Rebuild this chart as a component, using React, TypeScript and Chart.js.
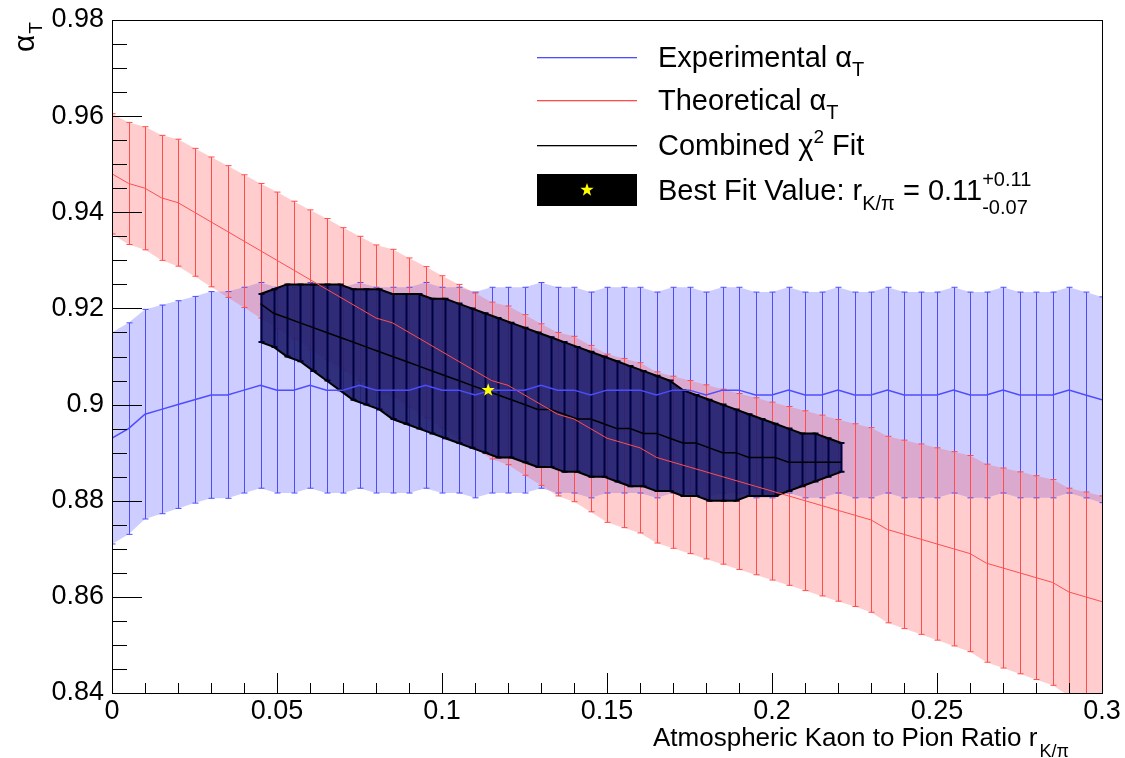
import React, { useEffect, useRef } from "react";
import { Chart, registerables } from "chart.js";
Chart.register(...registerables);

const gridX = [0,0.005,0.01,0.015,0.02,0.025,0.03,0.035,0.04,0.045,0.05,0.055,0.06,0.065,0.07,0.075,0.08,0.085,0.09,0.095,0.1,0.105,0.11,0.115,0.12,0.125,0.13,0.135,0.14,0.145,0.15,0.155,0.16,0.165,0.17,0.175,0.18,0.185,0.19,0.195,0.2,0.205,0.21,0.215,0.22,0.225,0.23,0.235,0.24,0.245,0.25,0.255,0.26,0.265,0.27,0.275,0.28,0.285,0.29,0.295,0.3];
const blueC = [0.893,0.895,0.898,0.899,0.900,0.901,0.902,0.902,0.903,0.904,0.903,0.903,0.904,0.903,0.903,0.904,0.903,0.903,0.903,0.904,0.903,0.903,0.902,0.903,0.903,0.903,0.904,0.903,0.903,0.902,0.903,0.903,0.903,0.902,0.903,0.903,0.902,0.903,0.903,0.902,0.902,0.903,0.902,0.902,0.903,0.902,0.902,0.903,0.902,0.902,0.902,0.903,0.902,0.902,0.903,0.902,0.902,0.902,0.903,0.902,0.901];
const blueE = [0.022,0.022,0.0218,0.0217,0.0216,0.0215,0.0215,0.0215,0.0214,0.0214,0.0214,0.0214,0.0214,0.0214,0.0214,0.0214,0.0214,0.0214,0.0214,0.0214,0.0214,0.0214,0.0214,0.0214,0.0214,0.0214,0.0214,0.0214,0.0214,0.0214,0.0214,0.0214,0.0214,0.0214,0.0214,0.0214,0.0214,0.0214,0.0214,0.0214,0.0214,0.0214,0.0214,0.0214,0.0214,0.0214,0.0214,0.0214,0.0214,0.0214,0.0214,0.0214,0.0214,0.0214,0.0214,0.0214,0.0214,0.0214,0.0214,0.0214,0.0214];
const redC = [0.948,0.946,0.945,0.943,0.942,0.940,0.938,0.936,0.934,0.932,0.930,0.928,0.926,0.924,0.922,0.920,0.918,0.917,0.915,0.913,0.911,0.909,0.907,0.905,0.904,0.902,0.900,0.898,0.897,0.895,0.893,0.892,0.891,0.889,0.888,0.887,0.886,0.885,0.884,0.883,0.882,0.881,0.880,0.879,0.878,0.877,0.876,0.874,0.873,0.872,0.871,0.870,0.869,0.867,0.866,0.865,0.864,0.863,0.861,0.860,0.859];
const redE = [0.0125,0.0127,0.0128,0.013,0.0132,0.0133,0.0135,0.0137,0.0138,0.014,0.0142,0.0143,0.0145,0.0147,0.0148,0.015,0.0152,0.0153,0.0155,0.0157,0.0158,0.016,0.0162,0.0163,0.0165,0.0167,0.0168,0.017,0.0172,0.0173,0.0175,0.0176,0.0177,0.0178,0.0179,0.018,0.0181,0.0182,0.0183,0.0184,0.0185,0.0186,0.0187,0.0188,0.0189,0.019,0.0192,0.0194,0.0196,0.0198,0.02,0.0202,0.0204,0.0206,0.0208,0.021,0.0212,0.0214,0.0216,0.0218,0.022];
const blackX = [0.045,0.049,0.053,0.057,0.061,0.065,0.069,0.073,0.077,0.081,0.085,0.089,0.093,0.097,0.101,0.105,0.109,0.113,0.117,0.121,0.125,0.129,0.133,0.137,0.141,0.145,0.149,0.153,0.157,0.161,0.165,0.169,0.173,0.177,0.181,0.185,0.189,0.193,0.197,0.201,0.205,0.209,0.213,0.217,0.221];
const blackC = [0.921,0.919,0.918,0.917,0.916,0.915,0.914,0.913,0.912,0.911,0.910,0.909,0.908,0.907,0.906,0.905,0.904,0.903,0.902,0.901,0.900,0.899,0.899,0.898,0.897,0.897,0.896,0.895,0.895,0.894,0.894,0.893,0.892,0.892,0.891,0.890,0.890,0.889,0.889,0.889,0.888,0.888,0.888,0.888,0.888];
const blackU = [0.923,0.924,0.925,0.925,0.925,0.925,0.925,0.924,0.924,0.924,0.923,0.923,0.923,0.922,0.922,0.921,0.920,0.919,0.918,0.917,0.916,0.915,0.914,0.913,0.912,0.911,0.910,0.909,0.908,0.907,0.906,0.905,0.903,0.902,0.901,0.900,0.899,0.898,0.897,0.896,0.895,0.894,0.894,0.893,0.892];
const blackL = [0.913,0.912,0.910,0.909,0.907,0.905,0.903,0.901,0.900,0.899,0.897,0.896,0.895,0.894,0.893,0.892,0.891,0.890,0.889,0.889,0.888,0.887,0.887,0.886,0.886,0.885,0.885,0.884,0.883,0.883,0.882,0.882,0.881,0.881,0.880,0.880,0.880,0.881,0.881,0.881,0.882,0.883,0.884,0.885,0.886];
const bestFit = { x: 0.114, y: 0.903 };
const xTicks = [0, 0.05, 0.1, 0.15, 0.2, 0.25, 0.3];
const xTickLabels = ["0", "0.05", "0.1", "0.15", "0.2", "0.25", "0.3"];
const yTicks = [0.84, 0.86, 0.88, 0.9, 0.92, 0.94, 0.96, 0.98];
const yTickLabels = ["0.84", "0.86", "0.88", "0.9", "0.92", "0.94", "0.96", "0.98"];

const BLUE = "rgb(77,77,255)";
const RED = "rgb(255,77,77)";
const FONT = "'Liberation Sans', Arial, sans-serif";

function star(ctx: CanvasRenderingContext2D, cx: number, cy: number, r: number) {
  ctx.beginPath();
  for (let i = 0; i < 10; i++) {
    const a = -Math.PI / 2 + (i * Math.PI) / 5;
    const rr = i % 2 === 0 ? r : r * 0.4;
    const px = cx + rr * Math.cos(a), py = cy + rr * Math.sin(a);
    if (i === 0) ctx.moveTo(px, py); else ctx.lineTo(px, py);
  }
  ctx.closePath();
  ctx.fillStyle = "#ffff00";
  ctx.fill();
}

const bandPlugin = {
  id: "bands",
  beforeDatasetsDraw(chart: any) {
    const { ctx, chartArea: a, scales } = chart;
    const xs = scales.x, ys = scales.y;
    ctx.save();
    ctx.beginPath();
    ctx.rect(a.left, a.top, a.right - a.left, a.bottom - a.top);
    ctx.clip();
    const area = (X: number[], lo: number[], hi: number[], fill: string) => {
      ctx.beginPath();
      X.forEach((x, i) => {
        const px = xs.getPixelForValue(x), py = ys.getPixelForValue(hi[i]);
        if (i === 0) ctx.moveTo(px, py); else ctx.lineTo(px, py);
      });
      for (let i = X.length - 1; i >= 0; i--) ctx.lineTo(xs.getPixelForValue(X[i]), ys.getPixelForValue(lo[i]));
      ctx.closePath();
      ctx.fillStyle = fill;
      ctx.fill();
    };
    const bars = (X: number[], lo: number[], hi: number[], color: string, w: number) => {
      ctx.strokeStyle = color;
      ctx.lineWidth = w;
      for (let i = 0; i < X.length; i++) {
        const px = Math.round(xs.getPixelForValue(X[i])) + 0.5;
        const y1 = ys.getPixelForValue(lo[i]), y2 = ys.getPixelForValue(hi[i]);
        ctx.beginPath();
        ctx.moveTo(px, y1); ctx.lineTo(px, y2);
        ctx.moveTo(px - 3, y1); ctx.lineTo(px + 3, y1);
        ctx.moveTo(px - 3, y2); ctx.lineTo(px + 3, y2);
        ctx.stroke();
      }
    };
    const bLo = blueC.map((v, i) => v - blueE[i]), bHi = blueC.map((v, i) => v + blueE[i]);
    const rLo = redC.map((v, i) => v - redE[i]), rHi = redC.map((v, i) => v + redE[i]);
    area(gridX, bLo, bHi, "rgba(77,77,255,0.28)");
    area(gridX, rLo, rHi, "rgba(255,77,77,0.28)");
    bars(gridX, bLo, bHi, BLUE, 1);
    bars(gridX, rLo, rHi, RED, 1);
    area(blackX, blackL, blackU, "rgba(30,30,110,0.9)");
    bars(blackX, blackL, blackU, "#000040", 2);
    ctx.restore();
  },
  afterDatasetsDraw(chart: any) {
    const { ctx, chartArea: a, scales } = chart;
    const xs = scales.x, ys = scales.y;
    star(ctx, xs.getPixelForValue(bestFit.x), ys.getPixelForValue(bestFit.y), 7);
    ctx.save();
    ctx.strokeStyle = "#000";
    ctx.lineWidth = 1;
    ctx.strokeRect(a.left + 0.5, a.top + 0.5, a.right - a.left, a.bottom - a.top);
    ctx.beginPath();
    for (let k = 0; k <= 30; k++) {
      const px = Math.round(xs.getPixelForValue(k * 0.01)) + 0.5;
      const len = k % 5 === 0 ? 20 : 10;
      ctx.moveTo(px, a.bottom); ctx.lineTo(px, a.bottom - len);
    }
    for (let k = 0; k <= 28; k++) {
      const py = Math.round(ys.getPixelForValue(0.84 + k * 0.005)) + 0.5;
      const len = k % 4 === 0 ? 30 : 15;
      ctx.moveTo(a.left, py); ctx.lineTo(a.left + len, py);
    }
    ctx.stroke();
    ctx.fillStyle = "#000";
    ctx.font = `27px ${FONT}`;
    ctx.textAlign = "center";
    ctx.textBaseline = "top";
    xTicks.forEach((v, i) => ctx.fillText(xTickLabels[i], xs.getPixelForValue(v), a.bottom + 5));
    ctx.textAlign = "right";
    ctx.textBaseline = "middle";
    yTicks.forEach((v, i) => ctx.fillText(yTickLabels[i], a.left - 8, ys.getPixelForValue(v)));
    // x title
    ctx.textBaseline = "alphabetic";
    ctx.textAlign = "left";
    const t1 = "Atmospheric Kaon to Pion Ratio r";
    ctx.font = `26px ${FONT}`;
    ctx.fillText(t1, 653, 746);
    const w1 = ctx.measureText(t1).width;
    ctx.font = `18px ${FONT}`;
    ctx.fillText("K/π", 653 + w1 + 2, 757);
    // y title
    ctx.save();
    ctx.translate(34, 52);
    ctx.rotate(-Math.PI / 2);
    ctx.font = `30px ${FONT}`;
    ctx.fillText("α", 0, 0);
    const wa = ctx.measureText("α").width;
    ctx.font = `19px ${FONT}`;
    ctx.fillText("T", wa + 1, 8);
    ctx.restore();
    // legend
    const lx0 = 537, lx1 = 637, tx = 658;
    const text = (parts: [string, number, number][], y: number) => {
      let x = tx;
      ctx.fillStyle = "#000";
      for (const [s, size, dy] of parts) {
        ctx.font = `${size}px ${FONT}`;
        ctx.fillText(s, x, y + dy);
        x += ctx.measureText(s).width;
      }
      return x;
    };
    ctx.fillStyle = BLUE;
    ctx.fillRect(lx0, 57, lx1 - lx0, 1.3);
    text([["Experimental α", 29, 0], ["T", 20, 9]], 67);
    ctx.fillStyle = RED;
    ctx.fillRect(lx0, 100, lx1 - lx0, 1.3);
    text([["Theoretical α", 29, 0], ["T", 20, 9]], 110);
    ctx.fillStyle = "#000";
    ctx.fillRect(lx0, 145, lx1 - lx0, 1.3);
    text([["Combined χ", 29, 0], ["2", 19, -12], [" Fit", 29, 0]], 155);
    ctx.fillStyle = "#000";
    ctx.fillRect(lx0, 174, lx1 - lx0, 32);
    star(ctx, 587, 190, 7);
    const ex = text([["Best Fit Value: r", 29, 0], ["K/π", 20, 10], [" = 0.11", 29, 0]], 200);
    ctx.font = `20px ${FONT}`;
    ctx.fillText("+0.11", ex, 186);
    ctx.fillText("-0.07", ex, 214);
    ctx.restore();
  },
};

export default function App() {
  const ref = useRef<HTMLCanvasElement>(null);
  useEffect(() => {
    document.body.style.margin = "0";
    const pts = (X: number[], Y: number[]) => X.map((x, i) => ({ x, y: Y[i] }));
    const chart = new Chart(ref.current!, {
      type: "line",
      data: {
        datasets: [
          { data: pts(gridX, blueC), borderColor: BLUE, borderWidth: 1.5, pointRadius: 0 },
          { data: pts(gridX, redC), borderColor: RED, borderWidth: 1, pointRadius: 0 },
          { data: pts(blackX, blackU), borderColor: "#000", borderWidth: 2, pointRadius: 0 },
          { data: pts(blackX, blackL), borderColor: "#000", borderWidth: 2, pointRadius: 0 },
          { data: pts(blackX, blackC), borderColor: "#000", borderWidth: 1.5, pointRadius: 0 },
        ],
      },
      options: {
        animation: false,
        responsive: false,
        layout: { padding: { left: 112, right: 23, top: 20, bottom: 65 } },
        plugins: { legend: { display: false }, tooltip: { enabled: false } },
        scales: {
          x: { type: "linear", min: 0, max: 0.3, display: false },
          y: { type: "linear", min: 0.84, max: 0.98, display: false },
        },
      },
      plugins: [bandPlugin],
    });
    return () => chart.destroy();
  }, []);
  return <canvas ref={ref} width={1125} height={758} style={{ display: "block", background: "#fff" }} />;
}
